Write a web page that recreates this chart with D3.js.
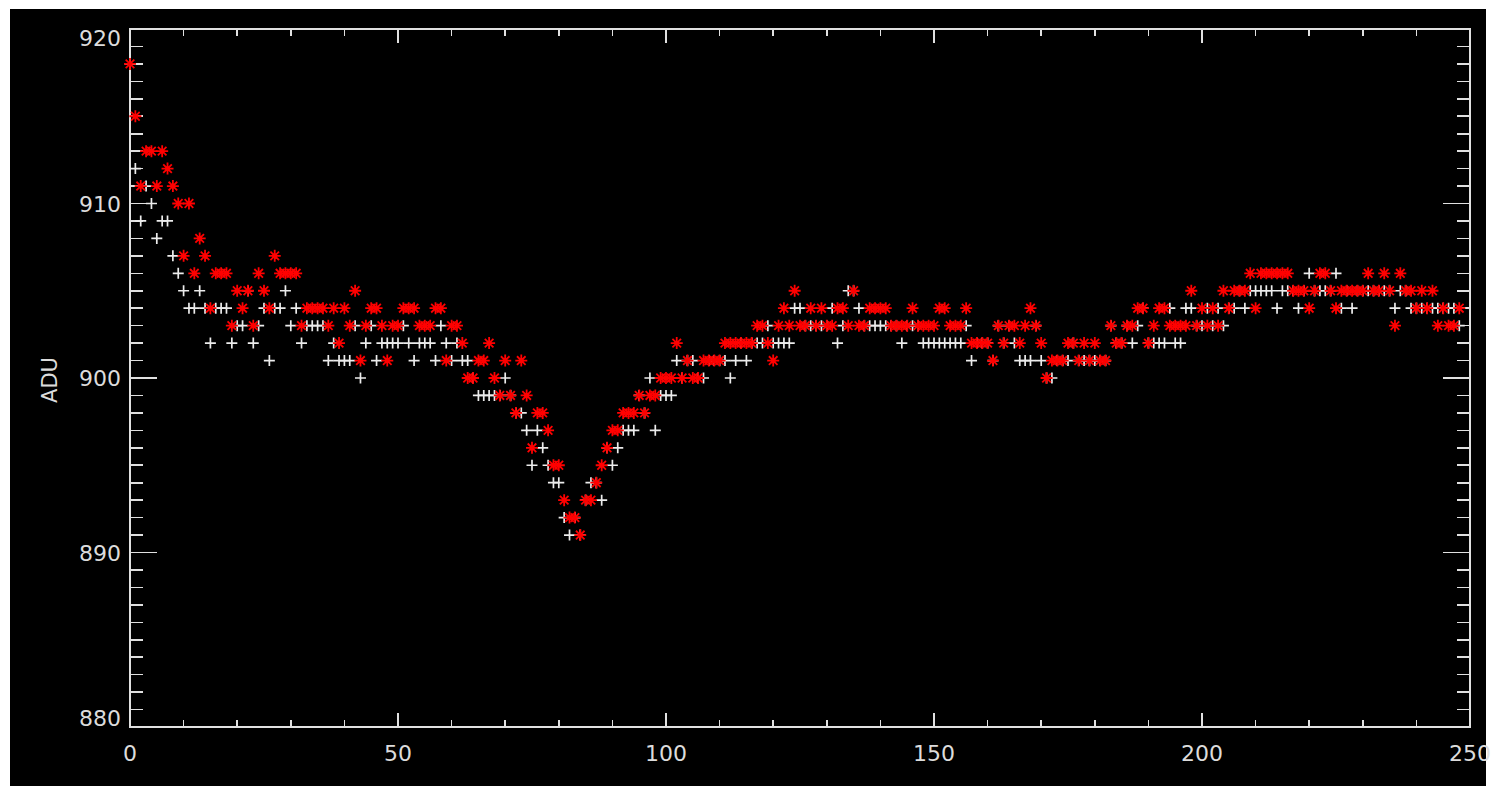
<!DOCTYPE html>
<html>
<head>
<meta charset="utf-8">
<script src="https://cdn.jsdelivr.net/npm/d3@7"></script>
<style>
html,body{margin:0;padding:0;background:#fff;}
svg{display:block;}
text{font-family:"DejaVu Sans",sans-serif;fill:#dcdcdc;}
</style>
</head>
<body>
<svg id="chart" width="1494" height="792"></svg>
<script>
// ---- data (x = sample index 0..248) ----
const redADU = [
918,915,911,913,913,911,913,912,911,910,
907,910,906,908,907,904,906,906,906,903,
905,904,905,903,906,905,904,907,906,906,
906,906,903,904,904,904,904,903,904,902,
904,903,905,901,903,904,904,903,901,903,
903,904,904,904,903,903,903,904,904,901,
903,903,902,900,900,901,901,902,900,899,
901,899,898,901,899,896,898,898,897,895,
895,893,892,892,891,893,893,894,895,896,
897,897,898,898,898,899,898,899,899,900,
900,900,902,900,901,900,900,901,901,901,
901,902,902,902,902,902,902,903,903,902,
901,903,904,903,905,903,903,904,903,904,
903,903,904,904,903,905,903,903,904,904,
904,904,903,903,903,903,904,903,903,903,
903,904,904,903,903,903,904,902,902,902,
902,901,903,902,903,903,902,903,904,903,
902,900,901,901,901,902,902,901,902,901,
902,901,901,903,902,902,903,903,904,904,
902,903,904,904,903,903,903,903,905,903,
904,903,904,903,905,904,905,905,905,906,
904,906,906,906,906,906,906,905,905,905,
904,905,906,906,905,904,905,905,905,905,
905,906,905,905,906,905,903,906,905,905,
904,905,904,905,903,904,903,903,904];
const whiteADU = [
918,912,909,911,910,908,909,909,907,906,
905,904,904,905,904,902,904,904,904,902,
903,903,905,902,903,904,901,904,904,905,
903,904,902,903,903,903,903,901,902,901,
901,901,903,900,902,903,901,902,902,902,
902,903,902,901,902,902,902,901,903,902,
901,902,901,901,900,899,899,899,899,899,
900,899,898,898,897,895,897,896,895,894,
894,892,891,892,891,893,894,894,893,896,
895,896,897,897,897,899,898,900,897,899,
899,899,901,900,901,901,900,900,901,901,
901,901,900,901,902,901,902,902,902,903,
902,902,902,902,904,904,903,903,903,903,
903,904,902,903,905,905,904,903,903,903,
903,903,903,903,902,903,903,903,902,902,
902,902,902,902,902,902,903,901,902,902,
902,901,903,902,903,902,901,901,901,903,
901,900,900,901,901,901,902,901,901,901,
901,901,901,903,902,902,903,902,903,904,
902,902,902,902,904,902,902,904,904,903,
903,904,903,904,903,904,904,905,904,905,
905,905,905,905,904,905,905,905,904,905,
906,905,905,905,905,906,904,905,904,905,
905,905,905,905,905,905,904,905,905,904,
904,904,904,904,904,904,904,904,903];
const xDomain = [0, 250];
const yDomain = [880, 920];
const xTickLabels = [0, 50, 100, 150, 200, 250];
const yTickLabels = [880, 890, 900, 910, 920];
const yTitle = "ADU";

// ---- layout ----
const svg = d3.select("#chart");
const L = 130, R = 1470, T = 29, B = 727;
const axisColor = "#e0e0e0";

svg.append("rect").attr("x", 10).attr("y", 9).attr("width", 1476).attr("height", 777).attr("fill", "#000");

const x = d3.scaleLinear().domain(xDomain).range([L, R]);
const y = d3.scaleLinear().domain(yDomain).range([B, T]);

const g = svg.append("g").attr("shape-rendering", "crispEdges");
// frame
g.append("rect").attr("x", L).attr("y", T).attr("width", R - L).attr("height", B - T)
  .attr("fill", "none").attr("stroke", axisColor).attr("stroke-width", 1.6);

// x ticks (bottom and top)
const xMinor = d3.range(xDomain[0], xDomain[1] + 0.001, 10);
xMinor.forEach(v => {
  const major = v % 50 === 0;
  const len = major ? 14 : 7;
  g.append("line").attr("x1", x(v)).attr("x2", x(v)).attr("y1", B).attr("y2", B - len)
    .attr("stroke", axisColor).attr("stroke-width", 1.6);
  g.append("line").attr("x1", x(v)).attr("x2", x(v)).attr("y1", T).attr("y2", T + len)
    .attr("stroke", axisColor).attr("stroke-width", 1.6);
});
// y ticks (left and right)
const yMinor = d3.range(yDomain[0], yDomain[1] + 0.001, 1);
yMinor.forEach(v => {
  const major = v % 10 === 0;
  const len = major ? 27 : 13;
  g.append("line").attr("x1", L).attr("x2", L + len).attr("y1", y(v)).attr("y2", y(v))
    .attr("stroke", axisColor).attr("stroke-width", 1.6);
  g.append("line").attr("x1", R).attr("x2", R - len).attr("y1", y(v)).attr("y2", y(v))
    .attr("stroke", axisColor).attr("stroke-width", 1.6);
});

// tick labels
svg.selectAll("text.xl").data(xTickLabels).enter().append("text")
  .attr("class", "xl").attr("x", d => x(d)).attr("y", 761)
  .attr("text-anchor", "middle").attr("font-size", 22).text(d => d);
svg.selectAll("text.yl").data(yTickLabels).enter().append("text")
  .attr("class", "yl").attr("x", 121)
  .attr("y", d => y(d) + 8 + (d === yDomain[1] ? 9 : d === yDomain[0] ? -9 : 0))
  .attr("text-anchor", "end").attr("font-size", 22).text(d => d);
svg.append("text").attr("transform", "translate(57,380) rotate(-90)")
  .attr("text-anchor", "middle").attr("font-size", 21).text(yTitle);

// markers
const plusPath = "M-5.5,0H5.5M0,-5.5V5.5";
const starPath = "M-6,0H6M0,-6V6M-4.3,-4.3L4.3,4.3M-4.3,4.3L4.3,-4.3";
svg.append("g").selectAll("path").data(whiteADU).enter().append("path")
  .attr("transform", (d, i) => `translate(${x(i)},${y(d)})`)
  .attr("d", plusPath).attr("stroke", "#ececec").attr("stroke-width", 1.7).attr("fill", "none");
const sg = svg.append("g").selectAll("g").data(redADU).enter().append("g")
  .attr("transform", (d, i) => `translate(${x(i)},${y(d)})`);
sg.append("path").attr("d", starPath).attr("stroke", "#ff0000").attr("stroke-width", 1.8).attr("fill", "none");
sg.append("circle").attr("r", 2.3).attr("fill", "#ff0000");
</script>
</body>
</html>
